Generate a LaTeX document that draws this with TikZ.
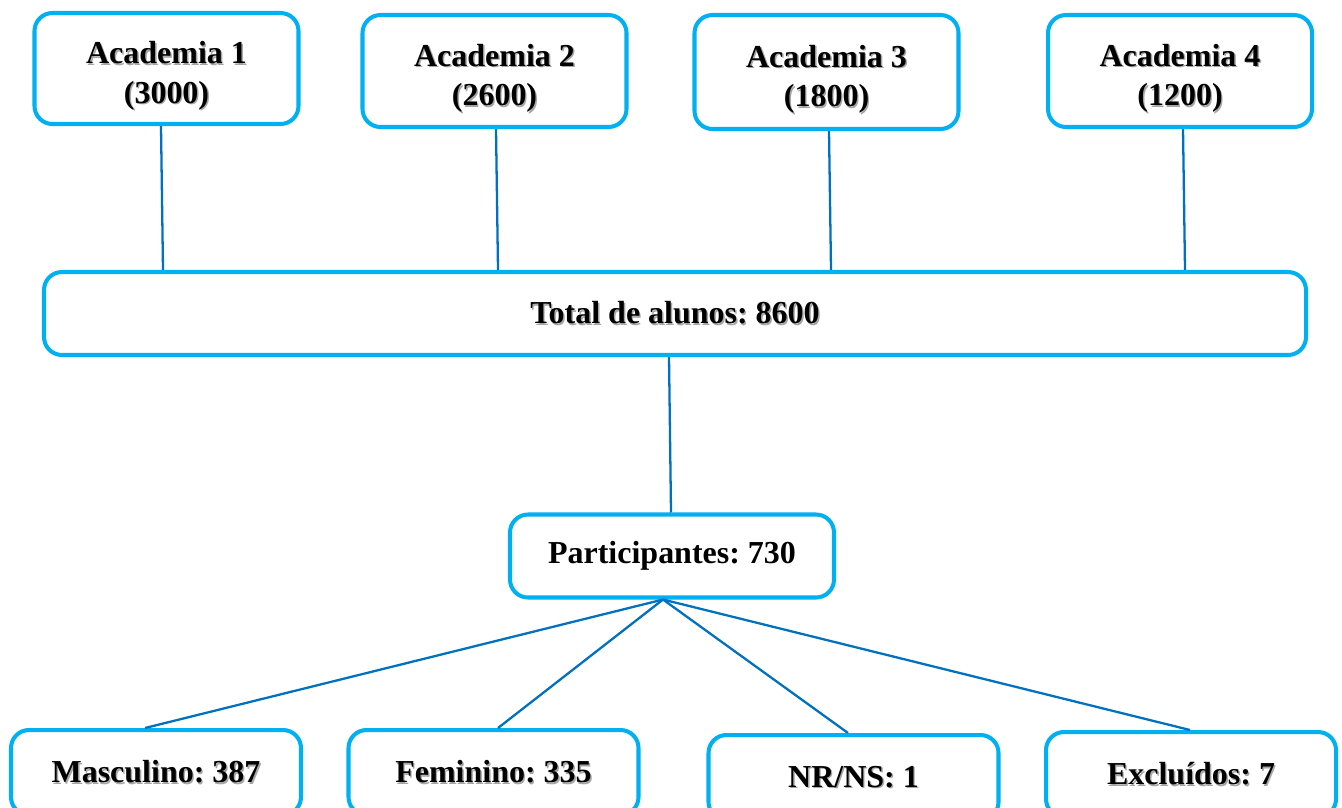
\documentclass[tikz,border=0pt]{standalone}
\usepackage{fontspec}
\setmainfont{Liberation Serif}
\frenchspacing
\definecolor{boxblue}{RGB}{0,176,240}
\definecolor{lineblue}{RGB}{0,112,192}
\newcommand\sh[1]{\leavevmode\rlap{\kern0.4pt\raisebox{-0.4pt}{\color{black!35}#1}}#1}
\newcommand\twolines[2]{\raisebox{-1.5mm}[0pt][0pt]{\renewcommand\arraystretch{0.96}\begin{tabular}{@{}c@{}}\sh{#1}\\\sh{#2}\end{tabular}}}
\begin{document}
\begin{tikzpicture}[x=0.1mm,y=-0.1mm,
  bx/.style={draw=boxblue,line width=1.15pt,rounded corners=1.8mm,fill=white,align=center,
    font=\bfseries\fontsize{9.1}{11.8}\selectfont,inner sep=0pt},
  ln/.style={draw=lineblue,line width=0.65pt}]
\useasboundingbox (0,0) rectangle (1342,807);
\clip (0,0) rectangle (1342,807);
% boxes
\node[bx,minimum width=26.4mm,minimum height=11.1mm] (a1) at (166.5,68.5) {\twolines{Academia 1}{(3000)}};
\node[bx,minimum width=26.4mm,minimum height=11.2mm] (a2) at (494.5,71) {\twolines{Academia 2}{(2600)}};
\node[bx,minimum width=26.4mm,minimum height=11.4mm] (a3) at (826.5,72) {\twolines{Academia 3}{(1800)}};
\node[bx,minimum width=26.4mm,minimum height=11.2mm] (a4) at (1180,71) {\twolines{Academia 4}{(1200)}};
\node[bx,minimum width=126.2mm,minimum height=8.3mm] (tot) at (675,313.5) {\sh{Total de alunos: 8600}};
\node[bx,minimum width=32.4mm,minimum height=8.3mm] (p) at (672,556) {Participantes: 730};
\node[bx,minimum width=29mm,minimum height=8.5mm] (m) at (156,772.5) {\sh{Masculino: 387}};
\node[bx,minimum width=29mm,minimum height=8.5mm] (f) at (493.5,772.5) {\sh{Feminino: 335}};
\node[bx,minimum width=29mm,minimum height=8.5mm] (n) at (853.5,777.5) {\sh{NR/NS: 1}};
\node[bx,minimum width=29mm,minimum height=8.5mm] (e) at (1191,774.5) {\sh{Excluídos: 7}};
% connectors
\draw[ln] ([xshift=-0.55mm]a1.south) -- ([xshift=-0.35mm]a1.south |- tot.north);
\draw[ln] ([xshift=0.15mm]a2.south) -- ([xshift=0.35mm]a2.south |- tot.north);
\draw[ln] ([xshift=0.25mm]a3.south) -- ([xshift=0.45mm]a3.south |- tot.north);
\draw[ln] ([xshift=0.3mm]a4.south) -- ([xshift=0.5mm]a4.south |- tot.north);
\draw[ln] ([xshift=-0.6mm]tot.south) -- ([xshift=-0.1mm]p.north);
\draw[ln] ([xshift=-0.9mm]p.south) -- ([xshift=-1.1mm]m.north);
\draw[ln] ([xshift=-0.9mm]p.south) -- ([xshift=0.45mm]f.north);
\draw[ln] ([xshift=-0.9mm]p.south) -- ([xshift=-0.55mm]n.north);
\draw[ln] ([xshift=-0.9mm]p.south) -- ([xshift=-0.1mm]e.north);
\end{tikzpicture}
\end{document}
